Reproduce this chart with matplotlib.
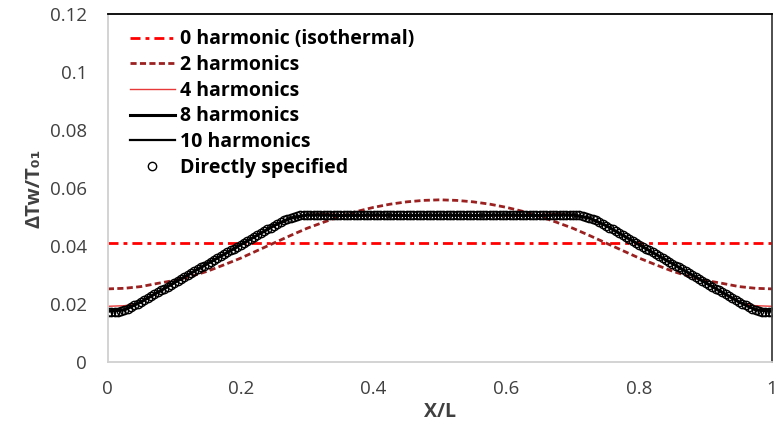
import numpy as np
import matplotlib.pyplot as plt

plt.rcParams['font.family'] = ['Open Sans', 'DejaVu Sans']

# Fourier reconstructions sampled every 0.025 in X/L
x_h = np.round(np.arange(0, 1.0001, 0.025), 3)

h0 = [0.0409] * 41

h2 = [0.0252, 0.0254, 0.0260, 0.0271, 0.0281, 0.0295, 0.0313, 0.0335, 0.0358, 0.0384, 0.0410,
      0.0436, 0.0461, 0.0482, 0.0502, 0.0519, 0.0533, 0.0544, 0.0552, 0.0557, 0.0559,
      0.0557, 0.0552, 0.0544, 0.0533, 0.0519, 0.0502, 0.0482, 0.0461, 0.0436, 0.0410,
      0.0384, 0.0358, 0.0335, 0.0313, 0.0295, 0.0281, 0.0271, 0.0260, 0.0254, 0.0252]

h4 = [0.0192, 0.0194, 0.0205, 0.0238, 0.0273, 0.0306, 0.0339, 0.0371, 0.0404, 0.0437, 0.0468,
      0.0494, 0.0508, 0.0511, 0.0508, 0.0504, 0.0503, 0.0505, 0.0507, 0.0507, 0.0506,
      0.0507, 0.0507, 0.0505, 0.0503, 0.0504, 0.0508, 0.0511, 0.0508, 0.0494, 0.0468,
      0.0437, 0.0404, 0.0371, 0.0339, 0.0306, 0.0273, 0.0238, 0.0205, 0.0194, 0.0192]

h8 = [0.0176, 0.0180, 0.0207, 0.0240, 0.0273, 0.0306, 0.0339, 0.0371, 0.0404, 0.0437, 0.0470,
      0.0496, 0.0507, 0.0507, 0.0505, 0.0506, 0.0507, 0.0506, 0.0505, 0.0506, 0.0506,
      0.0506, 0.0505, 0.0506, 0.0507, 0.0506, 0.0505, 0.0507, 0.0507, 0.0496, 0.0470,
      0.0437, 0.0404, 0.0371, 0.0339, 0.0306, 0.0273, 0.0240, 0.0207, 0.0180, 0.0176]

h10 = [0.0174, 0.0179, 0.0208, 0.0240, 0.0273, 0.0306, 0.0339, 0.0371, 0.0404, 0.0437, 0.0470,
       0.0497, 0.0506, 0.0506, 0.0506, 0.0505, 0.0506, 0.0506, 0.0506, 0.0506, 0.0506,
       0.0506, 0.0506, 0.0506, 0.0506, 0.0505, 0.0506, 0.0506, 0.0506, 0.0497, 0.0470,
       0.0437, 0.0404, 0.0371, 0.0339, 0.0306, 0.0273, 0.0240, 0.0208, 0.0179, 0.0174]

# directly specified wall temperature, every 0.005 in X/L
x_spec = np.round(np.arange(0, 1.0001, 0.005), 3)
ramp_up = [0.0172, 0.0172, 0.0173, 0.0174, 0.0176, 0.0179, 0.0184, 0.0190, 0.0196, 0.0201,
           0.0208, 0.0214, 0.0221, 0.0227, 0.0234, 0.0240, 0.0247, 0.0253, 0.0260, 0.0267,
           0.0273, 0.0280, 0.0286, 0.0293, 0.0299, 0.0306, 0.0312, 0.0319, 0.0326, 0.0332,
           0.0339, 0.0345, 0.0352, 0.0358, 0.0365, 0.0371, 0.0378, 0.0385, 0.0391, 0.0398,
           0.0404, 0.0411, 0.0417, 0.0424, 0.0430, 0.0437, 0.0443, 0.0450, 0.0457, 0.0463,
           0.0470, 0.0476, 0.0482, 0.0488, 0.0493, 0.0497, 0.0500, 0.0503, 0.0505, 0.0506]
plateau = [0.0506] * 81
ramp_down = [0.0506, 0.0505, 0.0503, 0.0500, 0.0497, 0.0493, 0.0488, 0.0482, 0.0476, 0.0470,
             0.0463, 0.0457, 0.0450, 0.0443, 0.0437, 0.0430, 0.0424, 0.0417, 0.0411, 0.0404,
             0.0398, 0.0391, 0.0385, 0.0378, 0.0371, 0.0365, 0.0358, 0.0352, 0.0345, 0.0339,
             0.0332, 0.0326, 0.0319, 0.0312, 0.0306, 0.0299, 0.0293, 0.0286, 0.0280, 0.0273,
             0.0267, 0.0260, 0.0253, 0.0247, 0.0240, 0.0234, 0.0227, 0.0221, 0.0214, 0.0208,
             0.0201, 0.0196, 0.0190, 0.0184, 0.0179, 0.0176, 0.0174, 0.0173, 0.0172, 0.0172]
y_spec = ramp_up + plateau + ramp_down

fig = plt.figure(figsize=(7.76, 4.33), dpi=100)
ax = fig.add_axes([0.139, 0.164, 0.856, 0.804])

l0, = ax.plot(x_h, h0, color='#FF0000', lw=2.0, label='0 harmonic (isothermal)')
l0.set_dashes([3.6, 1.8, 1.4, 1.8])
l2, = ax.plot(x_h, h2, color='#9B2121', lw=2.0, label='2 harmonics')
l2.set_dashes([2.2, 1.2])
ax.plot(x_h, h4, color='#E8393A', lw=1.0, label='4 harmonics')
ax.plot(x_h, h8, color='black', lw=2.2, label='8 harmonics')
ax.plot(x_h, h10, color='black', lw=1.6, label='10 harmonics')
ax.plot(x_spec, y_spec, 'o', ms=6.0, mfc='none', mec='black', mew=1.0,
        label='Directly specified')

ax.set_xlim(0, 1)
ax.set_ylim(0, 0.12)
ax.set_xticks([0, 0.2, 0.4, 0.6, 0.8, 1])
ax.set_xticklabels(['0', '0.2', '0.4', '0.6', '0.8', '1'])
ax.set_yticks([0, 0.02, 0.04, 0.06, 0.08, 0.1, 0.12])
ax.set_yticklabels(['0', '0.02', '0.04', '0.06', '0.08', '0.1', '0.12'])
ax.tick_params(axis='both', length=0, labelsize=13.5, colors='#404040')
ax.tick_params(axis='y', pad=15)
ax.tick_params(axis='x', pad=13)

ax.spines['left'].set_color('#D0D0D0')
ax.spines['bottom'].set_color('#D0D0D0')
ax.spines['top'].set_color('black')
ax.spines['right'].set_color('#404040')
for s in ax.spines.values():
    s.set_linewidth(1.3)

ax.set_xlabel('X/L', fontsize=14, fontweight='bold', color='#404040', labelpad=3)
ax.set_ylabel('ΔTw/T₀₁', fontsize=14.5, fontweight='bold', color='#404040', labelpad=4)

leg = ax.legend(loc='upper left', bbox_to_anchor=(0.01, 1.0), frameon=False,
                prop={'weight': 'bold', 'size': 14}, handlelength=2.3,
                handletextpad=0.25, labelspacing=0.29, borderaxespad=0.4)

fig.savefig('out.png', dpi=100)
